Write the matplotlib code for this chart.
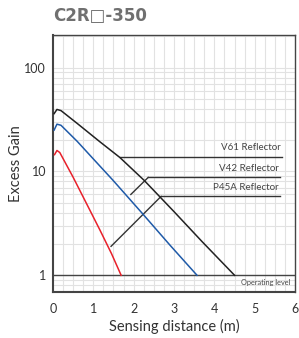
import numpy as np
import matplotlib
matplotlib.use("Agg")
import matplotlib.pyplot as plt

plt.rcParams["font.family"] = ["Lato", "DejaVu Sans"]

# curves (distance m, excess gain)
v61_x = [0.03, 0.1, 0.2, 0.6, 1.17, 1.66, 2.26, 3.0, 3.7, 4.5]
v61_y = [36, 39.5, 38.5, 29.0, 19.2, 13.6, 8.2, 4.1, 2.1, 1.0]
v42_x = [0.03, 0.1, 0.2, 0.6, 1.0, 1.49, 2.2, 2.9, 3.57]
v42_y = [25, 28.5, 27.8, 19.5, 13.2, 8.2, 4.0, 1.95, 1.0]
p45_x = [0.04, 0.1, 0.17, 0.5, 0.92, 1.17, 1.45, 1.69]
p45_y = [14.5, 15.9, 15.2, 8.8, 4.2, 2.7, 1.62, 1.0]

# labels and their leader lines: (name, line x start, line x end, y, diag end x, diag end y)
labels = [
    ("V61 Reflector", 1.66, 5.68, 13.9, None, None),
    ("V42 Reflector", 2.36, 5.63, 8.75, 1.93, 6.0),
    ("P45A Reflector", 2.68, 5.63, 5.75, 1.44, 1.9),
]

x_ticks = [0, 1, 2, 3, 4, 5, 6]
y_ticks = [1, 10, 100]

fig = plt.figure(figsize=(2.99, 3.38), dpi=100)
ax = fig.add_axes([0.177, 0.136, 0.810, 0.760])
ax.set_yscale("log")
ax.set_xlim(0, 6)
ax.set_ylim(0.69, 205)

# grid
for gx in np.arange(0.25, 6, 0.25):
    ax.axvline(gx, color="#e2e2e2", lw=0.8, zorder=0)
for dec in [0.1, 1, 10, 100]:
    for m in range(1, 10):
        v = dec * m
        if 0.69 < v < 205:
            ax.axhline(v, color="#e2e2e2", lw=0.8, zorder=0)

ax.plot(v61_x, v61_y, color="#222222", lw=1.1, zorder=3)
ax.plot(v42_x, v42_y, color="#1f5aa8", lw=1.1, zorder=3)
ax.plot(p45_x, p45_y, color="#e8212b", lw=1.1, zorder=3)

for name, x0, x1, y, dx, dy in labels:
    ax.plot([x0, x1], [y, y], color="#333333", lw=1.0, zorder=2)
    if dx is not None:
        ax.plot([x0, dx], [y, dy], color="#333333", lw=1.0, zorder=2)
    ax.text(x1 - 0.03, y * 1.1, name, ha="right", va="bottom",
            fontsize=7, color="#444444")

# operating level
ax.axhline(1, color="#444444", lw=1.0, zorder=2)
ax.text(5.88, 0.93, "Operating level", ha="right", va="top",
        fontsize=5.3, color="#444444")

ax.set_xticks(x_ticks)
ax.set_xticklabels([str(t) for t in x_ticks])
ax.set_yticks(y_ticks)
ax.set_yticklabels(["1", "10", "100"])
ax.yaxis.set_minor_locator(matplotlib.ticker.NullLocator())
ax.tick_params(length=0, labelsize=9, labelcolor="#333333")
ax.tick_params(axis="x", pad=8)
ax.tick_params(axis="y", pad=5)

for s in ["left", "bottom"]:
    ax.spines[s].set_linewidth(1.5)
    ax.spines[s].set_color("#444444")
for s in ["top", "right"]:
    ax.spines[s].set_linewidth(1.0)
    ax.spines[s].set_color("#444444")

ax.set_xlabel("Sensing distance (m)", fontsize=10.5, color="#333333", labelpad=3)
ax.set_ylabel("Excess Gain", fontsize=10.5, color="#333333", labelpad=1)

fig.text(0.177, 0.953, "C2R\u25a1-350", fontsize=12, fontweight="bold",
         color="#707070", ha="left", va="center", family="DejaVu Sans")

fig.savefig("out.png", dpi=100)
